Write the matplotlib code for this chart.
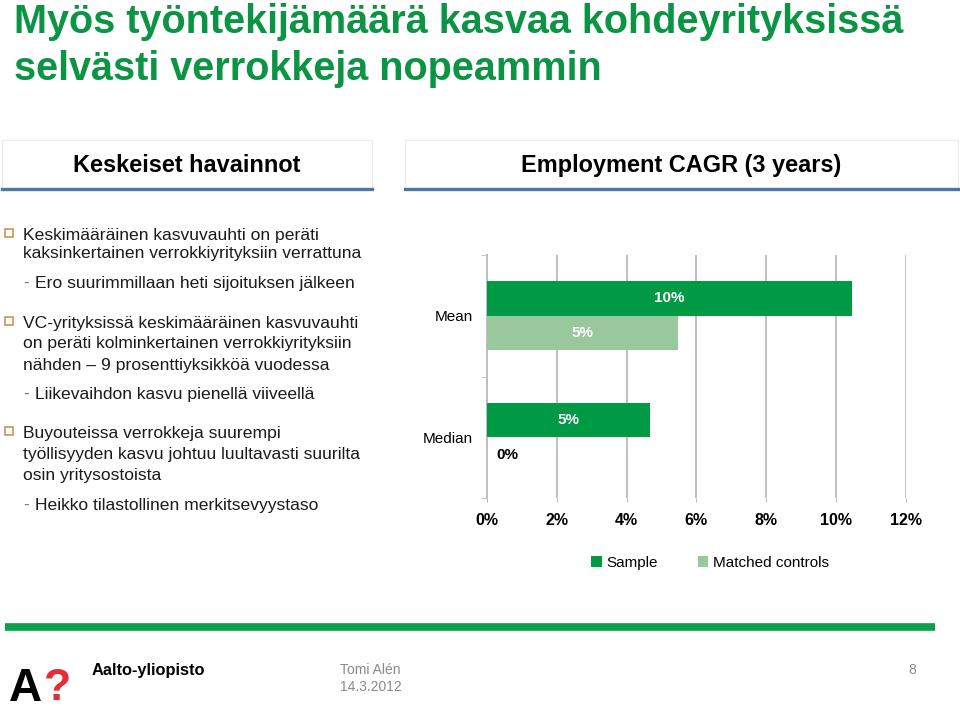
import matplotlib
matplotlib.use("Agg")
import matplotlib.pyplot as plt
from matplotlib.patches import Rectangle
from matplotlib.lines import Line2D
import numpy as np

# ---- data ----
categories = ["Mean", "Median"]
sample = [10.45, 4.66]
matched = [5.46, 0.0]
xticks = [0, 2, 4, 6, 8, 10, 12]
series_names = ["Sample", "Matched controls"]

title_lines = ["Myös työntekijämäärä kasvaa kohdeyrityksissä", "selvästi verrokkeja nopeammin"]
left_header = "Keskeiset havainnot"
right_header = "Employment CAGR (3 years)"

bullets = [
    ("b", ["Keskimääräinen kasvuvauhti on peräti", "kaksinkertainen verrokkiyrityksiin verrattuna"]),
    ("s", ["Ero suurimmillaan heti sijoituksen jälkeen"]),
    ("b", ["VC-yrityksissä keskimääräinen kasvuvauhti", "on peräti kolminkertainen verrokkiyrityksiin", "nähden – 9 prosenttiyksikköä vuodessa"]),
    ("s", ["Liikevaihdon kasvu pienellä viiveellä"]),
    ("b", ["Buyouteissa verrokkeja suurempi", "työllisyyden kasvu johtuu luultavasti suurilta", "osin yritysostoista"]),
    ("s", ["Heikko tilastollinen merkitsevyystaso"]),
]
# baselines (pixels from top) for the text lines of each bullet block
bullet_baselines = [[240, 258], [288], [328, 348, 370], [399], [438, 459, 480], [510]]

plt.rcParams['font.family'] = ['Liberation Sans', 'DejaVu Sans']

W, H = 960, 712
fig = plt.figure(figsize=(W / 100, H / 100), dpi=100)
fig.patch.set_facecolor("white")


def fx(px):
    return px / W


def fy(py):
    return 1 - py / H


GREEN = "#0b9444"
SAMPLE_C = "#009a44"
MATCHED_C = "#98c89c"
TEXT_C = "#1a1a1a"

# ---- title ----
fig.text(fx(14), fy(33), title_lines[0], fontsize=28.5, fontweight="bold", color=GREEN, va="baseline")
fig.text(fx(14), fy(80), title_lines[1], fontsize=28.5, fontweight="bold", color=GREEN, va="baseline")

# ---- header boxes ----
for (x0, x1, label) in [(2, 372, left_header), (405, 958, right_header)]:
    fig.add_artist(Rectangle((fx(x0), fy(189)), fx(x1 - x0), fy(140) - fy(189),
                             transform=fig.transFigure, facecolor="white",
                             edgecolor="#ececec", linewidth=0.8))
    fig.add_artist(Line2D([fx(x0), fx(x1)], [fy(189), fy(189)], transform=fig.transFigure,
                          color="#4a77a4", linewidth=2.4))
    fig.text(fx((x0 + x1) / 2), fy(172), label, fontsize=16.9, fontweight="bold",
             color="black", ha="center", va="baseline")

# ---- bullets ----
for (kind, lines), ys in zip(bullets, bullet_baselines):
    if kind == "b":
        fig.add_artist(Rectangle((fx(5), fy(ys[0] - 3)), fx(8), fy(0) - fy(8),
                                 transform=fig.transFigure, facecolor="white",
                                 edgecolor="#c98a4b", linewidth=1.1))
        for ln, yb in zip(lines, ys):
            fig.text(fx(23), fy(yb), ln, fontsize=12.6, color=TEXT_C, va="baseline")
    else:
        fig.text(fx(23), fy(ys[0]), "-", fontsize=12.6, color="#777777", va="baseline")
        fig.text(fx(35), fy(ys[0]), lines[0], fontsize=12.6, color=TEXT_C, va="baseline")

# ---- chart ----
ax = fig.add_axes([fx(487), fy(498), fx(905.7 - 487), fy(255) - fy(498)])
ypos = np.array([1, 0])
h = 0.284
ax.barh(ypos + h / 2, sample, height=h, color=SAMPLE_C, label=series_names[0], zorder=3)
ax.barh(ypos - h / 2, matched, height=h, color=MATCHED_C, label=series_names[1], zorder=3)

for yy, v in zip(ypos + h / 2, sample):
    ax.text(v / 2, yy, f"{round(v)}%", ha="center", va="center", color="white",
            fontsize=11, fontweight="bold", zorder=4)
for yy, v in zip(ypos - h / 2, matched):
    if v > 0.5:
        ax.text(v / 2, yy, f"{round(v)}%", ha="center", va="center", color="white",
                fontsize=11, fontweight="bold", zorder=4)
    else:
        ax.annotate(f"{round(v)}%", (v, yy), xytext=(7, 0), textcoords="offset points",
                    ha="left", va="center", color="black", fontsize=11, fontweight="bold", zorder=4)

ax.set_xlim(0, 12)
ax.set_ylim(-0.5, 1.5)
ax.set_xticks(xticks)
ax.set_xticklabels([f"{t}%" for t in xticks], fontsize=11.5, fontweight="bold")
ax.tick_params(axis="x", length=3, color="#bfbfbf", pad=8)
ax.set_yticks(ypos)
ax.set_yticklabels(categories, fontsize=11)
ax.tick_params(axis="y", which="major", length=0, pad=10)
ax.set_yticks([-0.5, 0.5, 1.5], minor=True)
ax.tick_params(axis="y", which="minor", length=4, color="#bfbfbf")
ax.grid(axis="x", color="#bfbfbf", linewidth=1.4, zorder=0)
for s in ["top", "right", "bottom"]:
    ax.spines[s].set_visible(False)
ax.spines["left"].set_color("#bfbfbf")
ax.spines["left"].set_linewidth(1.4)
ax.set_facecolor("none")

# legend
fig.legend(*ax.get_legend_handles_labels(), loc="center", bbox_to_anchor=(fx(710), fy(563)),
           ncol=2, frameon=False, fontsize=11, handlelength=0.7, handleheight=0.7,
           handletextpad=0.3, columnspacing=2.6)

# ---- footer ----
fig.add_artist(Line2D([fx(5), fx(935)], [fy(627), fy(627)], transform=fig.transFigure,
                      color="#0aa14a", linewidth=5.5, solid_capstyle="butt"))
fig.text(fx(9), fy(701), "A", fontsize=33, fontweight="bold", color="black", va="baseline")
fig.text(fx(44), fy(700), "?", fontsize=32, fontweight="bold", color="#e52b38", va="baseline")
fig.text(fx(92), fy(675), "Aalto-yliopisto", fontsize=11.8, fontweight="bold", color="black",
         va="baseline")
fig.text(fx(340), fy(674), "Tomi Alén", fontsize=10, color="#8a8a8a", va="baseline")
fig.text(fx(340), fy(691), "14.3.2012", fontsize=10, color="#8a8a8a", va="baseline")
fig.text(fx(908), fy(674), "8", fontsize=10, color="#8a8a8a", va="baseline")

fig.savefig("out.png", dpi=100, facecolor="white")
